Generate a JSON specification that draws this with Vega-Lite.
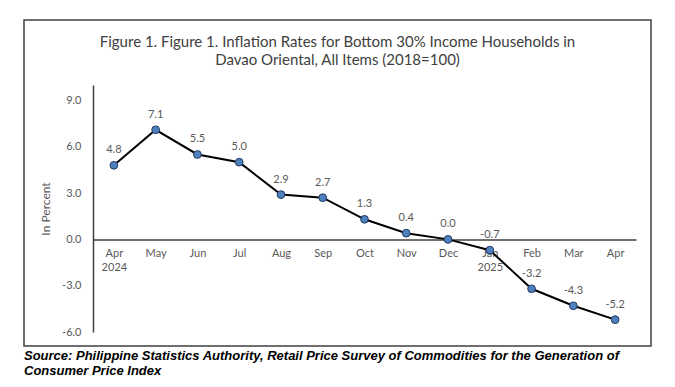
{
  "$schema": "https://vega.github.io/schema/vega-lite/v6.json",
  "padding": {"left": 23, "top": 19, "right": 0, "bottom": 0},
  "title": {
    "text": ["Source: Philippine Statistics Authority, Retail Price Survey of Commodities for the Generation of", "Consumer Price Index"],
    "orient": "bottom", "anchor": "start", "frame": "group",
    "font": "Liberation Sans Narrow, Liberation Sans", "fontSize": 13, "fontWeight": "bold", "fontStyle": "italic",
    "color": "#000000", "offset": 3, "lineHeight": 15
  },
  "vconcat": [
    {
      "width": 627,
      "height": 326,
      "title": {
        "text": ["Figure 1. Figure 1. Inflation Rates for Bottom 30% Income Households in", "Davao Oriental, All Items (2018=100)"],
        "offset": -48, "frame": "group", "anchor": "middle",
        "font": "Lato", "fontSize": 15, "fontWeight": "normal", "color": "#404040", "lineHeight": 18
      },
      "data": {
        "values": [
          {"month": "Apr 2024", "value": 4.8},
          {"month": "May", "value": 7.1},
          {"month": "Jun", "value": 5.5},
          {"month": "Jul", "value": 5.0},
          {"month": "Aug", "value": 2.9},
          {"month": "Sep", "value": 2.7},
          {"month": "Oct", "value": 1.3},
          {"month": "Nov", "value": 0.4},
          {"month": "Dec", "value": 0.0},
          {"month": "Jan 2025", "value": -0.7},
          {"month": "Feb", "value": -3.2},
          {"month": "Mar", "value": -4.3},
          {"month": "Apr", "value": -5.2}
        ]
      },
      "encoding": {
        "x": {
          "field": "month", "type": "ordinal", "sort": null,
          "scale": {"type": "point", "padding": 0.5, "range": [69, 612]},
          "axis": {
            "offset": -106.6, "title": null, "ticks": false, "grid": false,
            "labelAngle": 0, "labelPadding": 8, "labelFont": "Lato", "labelFontSize": 11,
            "labelColor": "#595959", "labelLineHeight": 14,
            "labelExpr": "split(datum.label, ' ')",
            "domainColor": "#404040", "domainWidth": 1.5
          }
        },
        "y": {
          "field": "value", "type": "quantitative",
          "scale": {"domain": [-6, 10], "range": [312, 65], "nice": false, "zero": false},
          "axis": {
            "offset": -69, "values": [-6, -3, 0, 3, 6, 9], "format": ".1f",
            "ticks": false, "grid": false, "labelPadding": 12,
            "labelFont": "Lato", "labelFontSize": 11, "labelColor": "#595959",
            "title": "In Percent", "titleFont": "Lato", "titleFontSize": 12, "titleFontWeight": "normal",
            "titleColor": "#595959", "titlePadding": 9,
            "domainColor": "#404040", "domainWidth": 1.5
          }
        }
      },
      "layer": [
        {"mark": {"type": "line", "color": "#000000", "strokeWidth": 2}},
        {"mark": {"type": "point", "filled": true, "fill": "#4F81BD", "stroke": "#1F3864", "strokeWidth": 1, "size": 60, "opacity": 1}},
        {
          "mark": {"type": "text", "dy": -15, "font": "Lato", "fontSize": 11, "color": "#595959"},
          "encoding": {"text": {"field": "value", "type": "quantitative", "format": ".1f"}}
        }
      ]
    }
  ],
  "config": {
    "locale": {"number": {"decimal": ".", "thousands": ",", "grouping": [3], "currency": ["$", ""], "minus": "-"}},
    "view": {"stroke": "#404040", "strokeWidth": 1.5},
    "concat": {"spacing": 0}
  }
}
